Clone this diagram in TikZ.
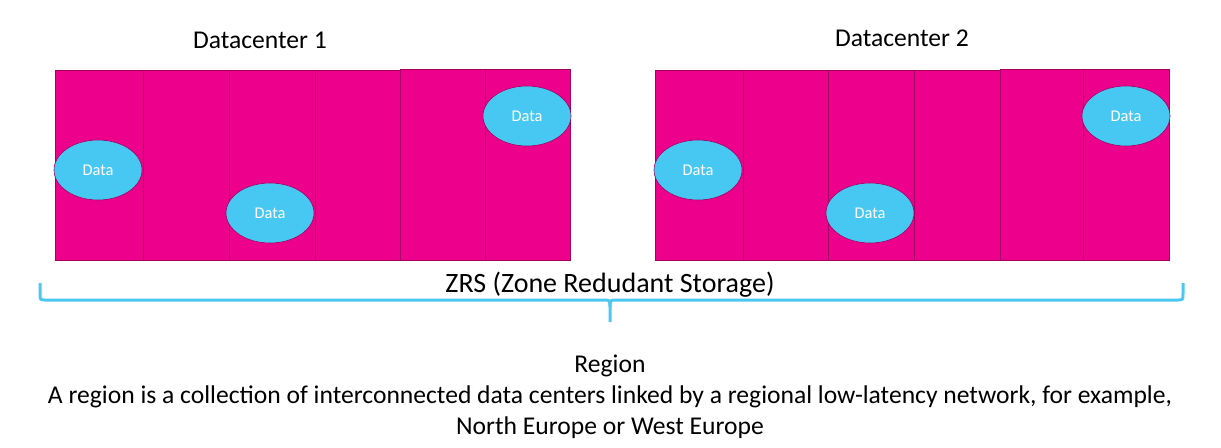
\documentclass[tikz,border=0pt]{standalone}
\usepackage{fontspec}
\setmainfont{Carlito}
\usepackage{tikz}
\usetikzlibrary{shapes.geometric}

\definecolor{zonepink}{HTML}{EC008C}
\definecolor{zoneedge}{HTML}{A3005F}
\definecolor{datablue}{HTML}{47C8F2}
\definecolor{bracecol}{HTML}{4CC7F0}

\begin{document}
\begin{tikzpicture}[x=0.5pt,y=-0.5pt,
    zone/.style={fill=zonepink,draw=zoneedge,line width=0.4pt},
    datadisk/.style={ellipse,fill=datablue,draw=zoneedge,line width=0.3pt,
      minimum width=44pt,minimum height=30pt,inner sep=0pt,text=white,
      font=\fontsize{8.2}{9}\selectfont},
    lbl/.style={font=\fontsize{12.8}{15.4}\selectfont,align=center}]
    \useasboundingbox (0,0) rectangle (1221,447);

    % datacenter 1
    \foreach \l/\r/\t in {55/143/70,143/229/70,229/315/70,315/400/70,400/485/69,485/570/69}
      \draw[zone] (\l,\t) rectangle (\r,260);

    % datacenter 2
    \foreach \l/\r/\t in {655/743/70,743/828/70,828/914/70,914/1000/70,1000/1083/69,1083/1169/69}
      \draw[zone] (\l,\t) rectangle (\r,260);

    \node[lbl] (dc1) at (260,40) {Datacenter 1};
    \node[lbl] (dc2) at (902,38) {Datacenter 2};

    \node[datadisk] (data11) at (98,170)   {Data};
    \node[datadisk] (data12) at (270,213)  {Data};
    \node[datadisk] (data13) at (527,116)  {Data};
    \node[datadisk] (data21) at (698,170)  {Data};
    \node[datadisk] (data22) at (870,213)  {Data};
    \node[datadisk] (data23) at (1126,116) {Data};

    % brace under both datacenters
    \draw[bracecol,line width=1.5pt]
      (40,283) -- (40,294) .. controls (40,300) .. (47,300) -- (603,300)
      .. controls (610,300) .. (610,307) -- (610,322);
    \draw[bracecol,line width=1.5pt]
      (1183,283) -- (1183,294) .. controls (1183,300) .. (1176,300) -- (617,300)
      .. controls (610,300) .. (610,307);

    \node[lbl,font=\fontsize{14}{16}\selectfont] (zrs) at (610,285) {ZRS (Zone Redudant Storage)};

    \node[lbl] (region) at (610,397) {Region\\
      A region is a collection of interconnected data centers linked by a regional low-latency network, for example,\\
      North Europe or West Europe};
\end{tikzpicture}
\end{document}
